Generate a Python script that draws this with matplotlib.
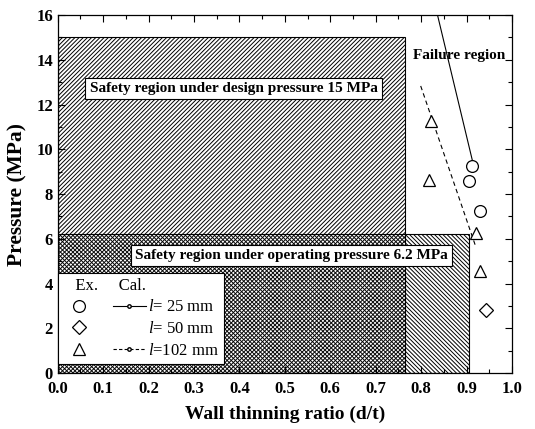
import matplotlib
matplotlib.use("Agg")
from matplotlib import pyplot as plt
from matplotlib.patches import Rectangle
from matplotlib.lines import Line2D
from matplotlib.legend_handler import HandlerTuple

# regions
design_ratio = 0.765
design_pressure = 15.0
operating_ratio = 0.905
operating_pressure = 6.2

# experiments
ex25_x = [0.905, 0.911, 0.930]
ex25_y = [8.60, 9.23, 7.22]
ex50_x = [0.942]
ex50_y = [2.80]
ex102_x = [0.822, 0.817, 0.920, 0.930]
ex102_y = [11.28, 8.63, 6.25, 4.54]

# calculations
cal25_x = [0.836, 0.913]
cal25_y = [16.0, 9.48]
cal102_x = [0.799, 0.920]
cal102_y = [12.83, 5.66]

plt.rcParams['font.family'] = ['Liberation Serif', 'DejaVu Serif']
plt.rcParams['hatch.linewidth'] = 0.7
plt.rcParams['mathtext.fontset'] = 'custom'
plt.rcParams['mathtext.it'] = 'Liberation Serif:italic'
plt.rcParams['mathtext.rm'] = 'Liberation Serif'

fig = plt.figure(figsize=(5.35, 4.29), dpi=100)
ax = fig.add_axes([0.108, 0.1305, 0.849, 0.8345])

ax.add_patch(Rectangle((0, 0), design_ratio, design_pressure, facecolor='white',
                       edgecolor='black', hatch='////////', lw=0.8, zorder=1))
ax.add_patch(Rectangle((0, 0), operating_ratio, operating_pressure, facecolor='none',
                       edgecolor='black', hatch='\\\\\\\\\\\\\\\\', lw=0.8, zorder=2))

box = dict(facecolor='white', edgecolor='black', lw=0.8, pad=3)
ax.text(0.387, 12.7, "Safety region under design pressure 15 MPa", ha='center',
        va='center', fontsize=11, fontweight='bold', bbox=box, zorder=4)
ax.text(0.514, 5.24, "Safety region under operating pressure 6.2 MPa", ha='center',
        va='center', fontsize=11, fontweight='bold', bbox=box, zorder=4)
ax.text(0.883, 14.17, "Failure region", ha='center', va='center', fontsize=11,
        fontweight='bold', zorder=4)

ax.plot(cal25_x, cal25_y, '-', color='black', lw=0.8, zorder=3)
ax.plot(cal102_x, cal102_y, '--', color='black', lw=0.8, dashes=(4, 3), zorder=3)
ax.plot(ex25_x, ex25_y, 'o', mfc='white', mec='black', ms=8.5, mew=0.9, ls='none', zorder=5)
ax.plot(ex50_x, ex50_y, 'D', mfc='white', mec='black', ms=7.5, mew=0.9, ls='none', zorder=5)
ax.plot(ex102_x, ex102_y, '^', mfc='white', mec='black', ms=9, mew=0.9, ls='none', zorder=5)

# legend
h_c = Line2D([], [], marker='o', mfc='white', mec='black', ms=8.5, mew=0.9, ls='none')
h_d = Line2D([], [], marker='D', mfc='white', mec='black', ms=7.5, mew=0.9, ls='none')
h_t = Line2D([], [], marker='^', mfc='white', mec='black', ms=9, mew=0.9, ls='none')
l25 = Line2D([], [], color='black', lw=0.8, marker='o', ms=2.5, mfc='white', mec='black',
             markevery=[1])
lnone = Line2D([], [], color='none')
l102 = Line2D([], [], color='black', lw=0.8, ls='--', dashes=(3, 2), marker='o', ms=2.5,
              mfc='white', mec='black', markevery=[1])
leg = ax.legend([(h_c, l25), (h_d, lnone), (h_t, l102)],
                [r"$\it{l}$= 25 mm", r"$\it{l}$= 50 mm", r"$\it{l}$=102 mm"],
                handler_map={tuple: HandlerTuple(ndivide=None, pad=1.0)},
                loc='lower left', bbox_to_anchor=(0.0, 0.025), fontsize=12,
                title="   Ex.     Cal.", title_fontsize=12, alignment='left',
                frameon=True, fancybox=False, edgecolor='black', framealpha=1,
                handlelength=5.0, handletextpad=0.1, borderpad=0.3,
                labelspacing=0.35, borderaxespad=0)
leg.get_frame().set_linewidth(0.8)
leg.set_zorder(6)

ax.set_xlim(0, 1.0)
ax.set_ylim(0, 16)
ax.set_xticks([i / 10 for i in range(11)])
ax.set_xticks([i / 20 for i in range(21)], minor=True)
ax.set_yticks(range(0, 17, 2))
ax.set_yticks(range(0, 17), minor=True)
ax.xaxis.set_major_formatter(matplotlib.ticker.FormatStrFormatter('%.1f'))
ax.tick_params(which='both', direction='in', top=True, right=True, width=0.8)
ax.tick_params(which='major', length=5, labelsize=12)
ax.tick_params(axis='x', which='major', pad=6)
ax.tick_params(which='minor', length=3)
for lab in ax.get_xticklabels() + ax.get_yticklabels():
    lab.set_fontweight('bold')
for s in ax.spines.values():
    s.set_linewidth(0.9)

ax.set_xlabel("Wall thinning ratio (d/t)", fontsize=14, fontweight='bold', labelpad=6)
ax.set_ylabel("Pressure (MPa)", fontsize=15.5, fontweight='bold', labelpad=6)

fig.savefig("out.png", dpi=100)
